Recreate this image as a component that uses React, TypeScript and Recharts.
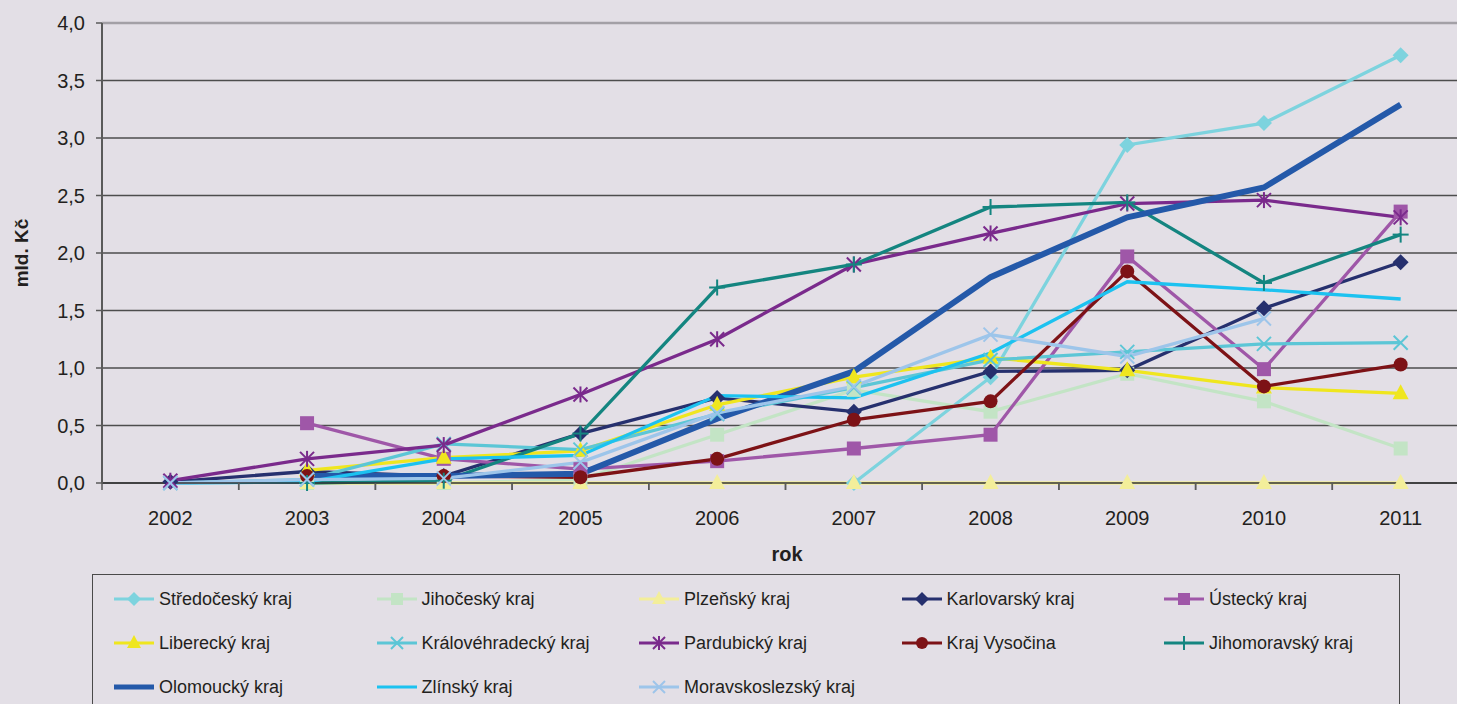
import React from 'react';
import { LineChart, Line, XAxis, YAxis, CartesianGrid, ReferenceLine } from 'recharts';

const years = ['2002', '2003', '2004', '2005', '2006', '2007', '2008', '2009', '2010', '2011'];
const yTicks = [0, 0.5, 1, 1.5, 2, 2.5, 3, 3.5, 4];

const stredocesky = [null, null, null, null, null, 0, 0.92, 2.94, 3.13, 3.72];
const jihocesky = [null, 0, 0.0, 0.03, 0.42, 0.81, 0.62, 0.95, 0.71, 0.3];
const plzensky = [null, 0, 0, 0, 0, 0, 0, 0, 0, 0];
const karlovarsky = [0.01, 0.1, 0.06, 0.43, 0.74, 0.62, 0.97, 0.98, 1.52, 1.92];
const ustecky = [null, 0.52, 0.21, 0.12, 0.19, 0.3, 0.42, 1.97, 0.99, 2.36];
const liberecky = [null, 0.11, 0.22, 0.28, 0.68, 0.92, 1.09, 0.98, 0.83, 0.78];
const kralovehradecky = [0, 0.03, 0.34, 0.29, 0.6, 0.83, 1.07, 1.14, 1.21, 1.22];
const pardubicky = [0.02, 0.21, 0.33, 0.77, 1.25, 1.9, 2.17, 2.43, 2.46, 2.31];
const vysocina = [null, 0.06, 0.06, 0.05, 0.21, 0.55, 0.71, 1.84, 0.84, 1.03];
const jihomoravsky = [null, 0, 0.02, 0.43, 1.7, 1.9, 2.4, 2.44, 1.74, 2.16];
const olomoucky = [null, 0.06, 0.06, 0.08, 0.56, 0.97, 1.79, 2.31, 2.57, 3.29];
const zlinsky = [0, 0.01, 0.21, 0.24, 0.76, 0.74, 1.13, 1.75, 1.68, 1.6];
const moravskoslezsky = [0, 0.03, 0.04, 0.18, 0.61, 0.84, 1.29, 1.1, 1.43, null];

type Shape = 'diamond' | 'square' | 'triangle' | 'x' | 'star' | 'circle' | 'plus' | 'none';

const series: { key: string; name: string; values: (number | null)[]; color: string; shape: Shape; width: number }[] = [
  { key: 's1', name: 'Středočeský kraj', values: stredocesky, color: '#7DD3DE', shape: 'diamond', width: 3.3 },
  { key: 's2', name: 'Jihočeský kraj', values: jihocesky, color: '#C3E4C5', shape: 'square', width: 3.3 },
  { key: 's3', name: 'Plzeňský kraj', values: plzensky, color: '#F3EE9A', shape: 'triangle', width: 3.3 },
  { key: 's4', name: 'Karlovarský kraj', values: karlovarsky, color: '#26306E', shape: 'diamond', width: 3.3 },
  { key: 's5', name: 'Ústecký kraj', values: ustecky, color: '#9F57A8', shape: 'square', width: 3.3 },
  { key: 's6', name: 'Liberecký kraj', values: liberecky, color: '#EFE61E', shape: 'triangle', width: 3.3 },
  { key: 's7', name: 'Královéhradecký kraj', values: kralovehradecky, color: '#5CC6D6', shape: 'x', width: 3.3 },
  { key: 's8', name: 'Pardubický kraj', values: pardubicky, color: '#7A2A8C', shape: 'star', width: 3.3 },
  { key: 's9', name: 'Kraj Vysočina', values: vysocina, color: '#7D1216', shape: 'circle', width: 3.3 },
  { key: 's10', name: 'Jihomoravský kraj', values: jihomoravsky, color: '#148580', shape: 'plus', width: 3.3 },
  { key: 's11', name: 'Olomoucký kraj', values: olomoucky, color: '#2459A9', shape: 'none', width: 6 },
  { key: 's12', name: 'Zlínský kraj', values: zlinsky, color: '#1CC2F0', shape: 'none', width: 3.3 },
  { key: 's13', name: 'Moravskoslezský kraj', values: moravskoslezsky, color: '#9DC5EA', shape: 'x', width: 3.3 },
];

const data = years.map((y, i) => {
  const row: Record<string, any> = { year: y };
  series.forEach((s) => {
    row[s.key] = s.values[i];
  });
  return row;
});

const FONT = '"Liberation Sans", Arial, sans-serif';

function MarkerShape({ cx, cy, shape, color, size = 8 }: { cx: number; cy: number; shape: Shape; color: string; size?: number }) {
  const r = size;
  switch (shape) {
    case 'diamond':
      return <polygon points={`${cx},${cy - r} ${cx + r},${cy} ${cx},${cy + r} ${cx - r},${cy}`} fill={color} />;
    case 'square':
      return <rect x={cx - r + 1} y={cy - r + 1} width={2 * r - 2} height={2 * r - 2} fill={color} />;
    case 'triangle':
      return <polygon points={`${cx},${cy - r - 1} ${cx + r},${cy + r - 2} ${cx - r},${cy + r - 2}`} fill={color} />;
    case 'circle':
      return <circle cx={cx} cy={cy} r={r - 1} fill={color} />;
    case 'x':
      return (
        <g stroke={color} strokeWidth={2}>
          <line x1={cx - r + 1} y1={cy - r + 1} x2={cx + r - 1} y2={cy + r - 1} />
          <line x1={cx - r + 1} y1={cy + r - 1} x2={cx + r - 1} y2={cy - r + 1} />
        </g>
      );
    case 'star':
      return (
        <g stroke={color} strokeWidth={2}>
          <line x1={cx - r + 1} y1={cy - r + 1} x2={cx + r - 1} y2={cy + r - 1} />
          <line x1={cx - r + 1} y1={cy + r - 1} x2={cx + r - 1} y2={cy - r + 1} />
          <line x1={cx} y1={cy - r} x2={cx} y2={cy + r} />
        </g>
      );
    case 'plus':
      return (
        <g stroke={color} strokeWidth={2}>
          <line x1={cx - r} y1={cy} x2={cx + r} y2={cy} />
          <line x1={cx} y1={cy - r} x2={cx} y2={cy + r} />
        </g>
      );
    default:
      return null;
  }
}

const makeDot = (shape: Shape, color: string) => (props: any) => {
  const { cx, cy, index, value } = props;
  if (cx == null || cy == null || value == null || shape === 'none') return <g key={`d-${index}`} />;
  return (
    <g key={`d-${index}`}>
      <MarkerShape cx={cx} cy={cy} shape={shape} color={color} />
    </g>
  );
};

const XTick = (props: any) => {
  const { x, y, payload } = props;
  const half = payload && payload.offset ? payload.offset : 0;
  return (
    <g>
      {half > 0 && <line x1={x - half} x2={x - half} y1={y} y2={y + 7} stroke="#5a5a5a" strokeWidth={1.5} />}
      {half > 0 && <line x1={x + half} x2={x + half} y1={y} y2={y + 7} stroke="#5a5a5a" strokeWidth={1.5} />}
      <text x={x} y={y + 42} textAnchor="middle" fontSize={20} fontFamily={FONT} fill="#231F20">
        {payload.value}
      </text>
    </g>
  );
};

const fmt = (v: number) => v.toFixed(1).replace('.', ',');

function LegendIcon({ shape, color, width }: { shape: Shape; color: string; width: number }) {
  return (
    <svg width={42} height={18} style={{ display: 'block' }}>
      <line x1={1} y1={9} x2={41} y2={9} stroke={color} strokeWidth={width > 4 ? 5 : 3} />
      <MarkerShape cx={21} cy={9} shape={shape} color={color} size={7} />
    </svg>
  );
}

export default function App() {
  return (
    <div
      style={{
        position: 'absolute',
        left: 0,
        top: 0,
        width: 1457,
        height: 704,
        overflow: 'hidden',
        background: '#E3DFE6',
        fontFamily: FONT,
      }}
    >
      <LineChart width={1480} height={704} data={data} margin={{ top: 23, right: 11, left: 0, bottom: 181 }}>
        <CartesianGrid horizontal vertical={false} stroke="#4d4d4d" strokeWidth={1.3} />
        <XAxis
          dataKey="year"
          scale="band"
          height={40}
          tickLine={false}
          tickSize={0}
          tickMargin={0}
          axisLine={{ stroke: '#333', strokeWidth: 1.5 }}
          tick={<XTick />}
          interval={0}
        />
        <YAxis
          width={102}
          domain={[0, 4]}
          ticks={yTicks}
          tickFormatter={fmt}
          tickSize={6}
          tickMargin={11}
          axisLine={{ stroke: '#5a5a5a', strokeWidth: 2 }}
          tickLine={{ stroke: '#5a5a5a', strokeWidth: 1.5 }}
          tick={{ fontSize: 20, fontFamily: FONT, fill: '#231F20' }}
          interval={0}
        />
        <ReferenceLine y={4} stroke="#a3a0a6" strokeWidth={2.5} />
        {series.map((s) => (
          <Line
            key={s.key}
            dataKey={s.key}
            name={s.name}
            type="linear"
            stroke={s.color}
            strokeWidth={s.width}
            dot={makeDot(s.shape, s.color)}
            activeDot={false}
            isAnimationActive={false}
            connectNulls={false}
          />
        ))}
      </LineChart>

      <div
        style={{
          position: 'absolute',
          left: 22,
          top: 253,
          transform: 'translate(-50%, -50%) rotate(-90deg)',
          whiteSpace: 'nowrap',
          fontWeight: 'bold',
          fontSize: 19,
          lineHeight: '22px',
          color: '#231F20',
        }}
      >
        mld. Kč
      </div>

      <div
        style={{
          position: 'absolute',
          left: 737,
          width: 100,
          top: 543,
          textAlign: 'center',
          fontWeight: 'bold',
          fontSize: 20,
          color: '#231F20',
        }}
      >
        rok
      </div>

      <div
        style={{
          position: 'absolute',
          left: 92,
          top: 574,
          width: 1308,
          height: 160,
          border: '1.5px solid #4a4a4a',
          boxSizing: 'border-box',
        }}
      >
        {series.map((s, i) => {
          const row = Math.floor(i / 5);
          const col = i % 5;
          return (
            <div
              key={s.key}
              style={{
                position: 'absolute',
                left: 20 + col * 262.5,
                top: 24 + row * 44 - 11,
                height: 22,
                display: 'flex',
                alignItems: 'center',
                whiteSpace: 'nowrap',
              }}
            >
              <LegendIcon shape={s.shape} color={s.color} width={s.width} />
              <span style={{ marginLeft: 4, fontSize: 18, color: '#231F20' }}>{s.name}</span>
            </div>
          );
        })}
      </div>
    </div>
  );
}
